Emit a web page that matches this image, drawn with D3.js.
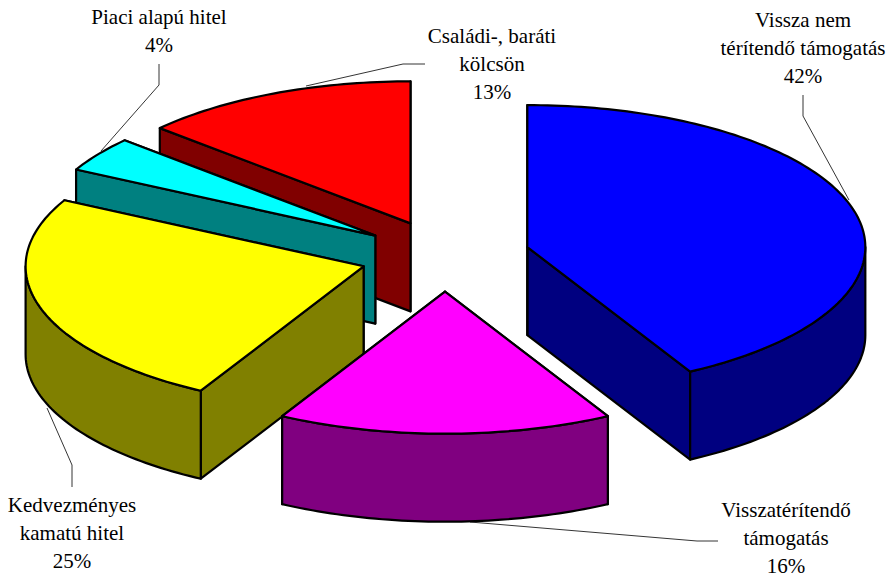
<!DOCTYPE html>
<html><head><meta charset="utf-8">
<script src="https://cdn.jsdelivr.net/npm/d3@7/dist/d3.min.js"></script>
<style>html,body{margin:0;padding:0;background:#fff}svg{display:block}</style>
</head><body><svg id="c" width="896" height="578"></svg>
<script>
const categories = [
  ["Vissza nem","térítendő támogatás"],
  ["Visszatérítendő","támogatás"],
  ["Kedvezményes","kamatú hitel"],
  ["Piaci alapú hitel"],
  ["Családi-, baráti","kölcsön"]
];
const values = [42,16,24.7,4,13.3];
const topColors = ["#0000ff","#ff00ff","#ffff00","#00ffff","#ff0000"];
const sideColors = ["#000080","#800080","#808000","#008080","#800000"];

// layout
const cx=445, cy=256, rx=338, ry=142, depth=88, explode=85;
const labelLayout = [
  {x:803,y:27, leader:[[803,95],[803,116],[849,200]]},
  {x:786,y:517,leader:[[718,541],[697,541],[470,522]]},
  {x:72, y:512,leader:[[72,487],[72,465],[47,408]]},
  {x:159,y:24, leader:[[159,64],[159,85],[101,151]]},
  {x:492,y:43, leader:[[425,64],[403,64],[306,86]]}
];

const svg=d3.select("#c");
const arcs=d3.pie().sort(null).value(d=>d).startAngle(0).endAngle(2*Math.PI)(values);
const px=d3.scaleLinear().domain([-1,1]).range([-rx,rx]);
const py=d3.scaleLinear().domain([-1,1]).range([-ry,ry]);
const line=d3.line();
const pt=(c,a,z=0)=>{const [u,v]=d3.pointRadial(a,1);return [c[0]+px(u),c[1]+py(v)+z];};
const sweep=(a0,a1)=>{const n=Math.max(2,Math.ceil((a1-a0)/0.02));return d3.range(n+1).map(i=>a0+(a1-a0)*i/n);};

// leaders beneath the pie
const leaders=svg.append("g");
labelLayout.forEach(l=>leaders.append("path").attr("d",line(l.leader)).attr("fill","none").attr("stroke","#000").attr("stroke-width",0.8));

const order=[4,3,2,1,0];
const gs=svg.append("g").attr("stroke","#000").attr("stroke-width",2.2).attr("stroke-linejoin","round");
order.forEach(i=>{
  const d=arcs[i], mid=(d.startAngle+d.endAngle)/2;
  const [ex,ey]=d3.pointRadial(mid,explode);
  const c=[cx+ex,cy+ey*ry/rx];
  const g=gs.append("g");
  const wall=(a)=>line([c,pt(c,a),pt(c,a,depth),[c[0],c[1]+depth]])+"Z";
  g.append("path").attr("d",wall(d.endAngle)).attr("fill",sideColors[i]);
  g.append("path").attr("d",wall(d.startAngle)).attr("fill",sideColors[i]);
  const lo=Math.max(d.startAngle,Math.PI/2), hi=Math.min(d.endAngle,3*Math.PI/2);
  if(hi>lo){
    const as=sweep(lo,hi);
    g.append("path").attr("d",line([...as.map(a=>pt(c,a)),...as.slice().reverse().map(a=>pt(c,a,depth))])+"Z").attr("fill",sideColors[i]);
  }
  g.append("path").attr("d",line([c,...sweep(d.startAngle,d.endAngle).map(a=>pt(c,a))])+"Z").attr("fill",topColors[i]);
});

const tg=svg.append("g").attr("font-family","'Liberation Serif','Times New Roman',serif").attr("font-size",21).attr("text-anchor","middle").attr("fill","#000");
categories.forEach((lines,i)=>{
  const l=labelLayout[i];
  [...lines,Math.round(values[i])+"%"].forEach((s,k)=>tg.append("text").attr("x",l.x).attr("y",l.y+k*28).text(s));
});
</script></body></html>
